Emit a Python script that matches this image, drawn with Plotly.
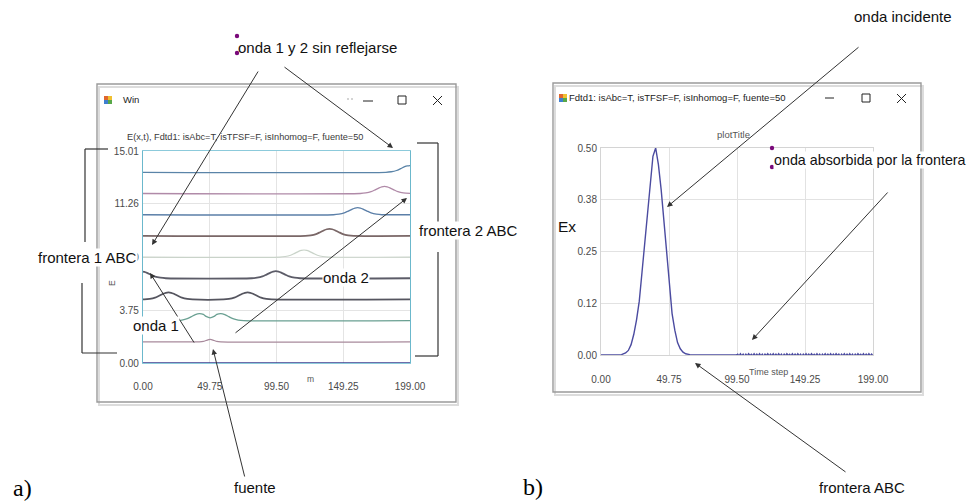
import plotly.graph_objects as go

# ---------------- DATA ----------------
# Panel a): snapshots of E(x,t) drawn with a vertical offset
snap_offsets = [0.0, 1.5, 3.0, 4.5, 6.0, 7.5, 9.0, 10.5, 12.0, 13.5]

x_s0 = [0, 199]
e_s0 = [0, 0]
x_s1 = [0, 42, 45, 47, 49, 50, 51, 53, 55, 58, 199]
e_s1 = [0, 0, 0.03, 0.09, 0.15, 0.17, 0.15, 0.09, 0.03, 0, 0]
x_s2 = [0, 25, 29, 33, 36, 39, 42, 45, 47, 50, 53, 55, 58, 61, 64, 67, 71, 75, 199]
e_s2 = [0, 0, 0.04, 0.14, 0.28, 0.43, 0.5, 0.44, 0.3, 0.2, 0.3, 0.44, 0.5, 0.43, 0.28, 0.14, 0.04, 0, 0]
x_s3 = [0, 1, 5, 9, 12, 15, 17, 19, 21, 23, 26, 29, 33, 37, 60, 64, 68, 71, 74, 76, 78, 80, 82, 85, 88, 92, 96, 199]
e_s3 = [0, 0, 0.04, 0.13, 0.26, 0.4, 0.47, 0.5, 0.47, 0.4, 0.26, 0.13, 0.04, 0,
        0, 0.04, 0.13, 0.26, 0.4, 0.47, 0.5, 0.47, 0.4, 0.26, 0.13, 0.04, 0, 0]
x_s4 = [0, 1, 3, 6, 9, 13, 17, 81, 85, 89, 92, 95, 97, 99, 101, 103, 106, 109, 113, 117, 199]
e_s4 = [0.47, 0.45, 0.38, 0.25, 0.12, 0.04, 0, 0, 0.04, 0.13, 0.26, 0.4, 0.47, 0.5, 0.47, 0.4, 0.26, 0.13, 0.04, 0, 0]
x_s5 = [0, 102, 106, 110, 113, 116, 118, 120, 122, 124, 127, 130, 134, 138, 199]
e_s5 = [0, 0, 0.04, 0.13, 0.26, 0.4, 0.47, 0.5, 0.47, 0.4, 0.26, 0.13, 0.04, 0, 0]
x_s6 = [0, 121, 125, 129, 132, 135, 137, 139, 141, 143, 146, 149, 153, 157, 199]
e_s6 = [0, 0, 0.04, 0.13, 0.26, 0.4, 0.47, 0.5, 0.47, 0.4, 0.26, 0.13, 0.04, 0, 0]
x_s7 = [0, 142, 146, 150, 153, 156, 158, 160, 162, 164, 167, 170, 174, 178, 199]
e_s7 = [0, 0, 0.04, 0.13, 0.26, 0.4, 0.47, 0.5, 0.47, 0.4, 0.26, 0.13, 0.04, 0, 0]
x_s8 = [0, 162, 166, 170, 173, 176, 178, 180, 182, 184, 187, 190, 194, 199]
e_s8 = [0, 0, 0.04, 0.13, 0.26, 0.4, 0.47, 0.5, 0.47, 0.4, 0.26, 0.13, 0.04, 0.01]
x_s9 = [0, 181, 185, 189, 192, 195, 197, 199]
e_s9 = [0, 0, 0.04, 0.13, 0.26, 0.4, 0.46, 0.48]

snaps_x = [x_s0, x_s1, x_s2, x_s3, x_s4, x_s5, x_s6, x_s7, x_s8, x_s9]
snaps_e = [e_s0, e_s1, e_s2, e_s3, e_s4, e_s5, e_s6, e_s7, e_s8, e_s9]

a_xticks = [0, 49.75, 99.5, 149.25, 199]
a_xticktext = ["0.00", "49.75", "99.50", "149.25", "199.00"]
a_yticks = [0, 3.75, 7.5, 11.26, 15.01]
a_yticktext = ["0.00", "3.75", "7.50", "11.26", "15.01"]

# Panel b): Ex versus time step
t_pulse = [0, 10, 15, 18, 20, 22, 24, 26, 28, 30, 32, 34, 36, 38, 40, 42, 44, 46, 48,
           50, 52, 54, 56, 58, 60, 62, 65, 70, 80, 90, 99]
ex_pulse = [0, 0, 0.001, 0.005, 0.011, 0.025, 0.05, 0.085, 0.13, 0.2, 0.27, 0.35, 0.42,
            0.48, 0.5, 0.46, 0.4, 0.32, 0.24, 0.16, 0.1, 0.06, 0.03, 0.015, 0.007,
            0.003, 0.001, 0, 0, 0, 0]
t_ripple = list(range(100, 200))
ex_ripple = [0.002, -0.002, 0.003, -0.002, 0.002, -0.003, 0.002, -0.002, 0.003, -0.001,
             0.002, -0.002, 0.003, -0.002, 0.002, -0.002, 0.003, -0.002, 0.002, -0.003,
             0.002, -0.001, 0.003, -0.002, 0.002, -0.002, 0.003, -0.002, 0.002, -0.002,
             0.003, -0.002, 0.002, -0.003, 0.002, -0.002, 0.003, -0.001, 0.002, -0.002,
             0.003, -0.002, 0.002, -0.002, 0.003, -0.002, 0.002, -0.003, 0.002, -0.002,
             0.003, -0.002, 0.002, -0.002, 0.003, -0.001, 0.002, -0.002, 0.003, -0.002,
             0.002, -0.003, 0.002, -0.002, 0.003, -0.002, 0.002, -0.002, 0.003, -0.002,
             0.002, -0.002, 0.003, -0.001, 0.002, -0.003, 0.002, -0.002, 0.003, -0.002,
             0.002, -0.002, 0.003, -0.002, 0.002, -0.003, 0.002, -0.002, 0.003, -0.001,
             0.002, -0.002, 0.003, -0.002, 0.002, -0.002, 0.003, -0.002, 0.002, -0.002]

b_xticks = [0, 49.75, 99.5, 149.25, 199]
b_xticktext = ["0.00", "49.75", "99.50", "149.25", "199.00"]
b_yticks = [0, 0.125, 0.25, 0.375, 0.5]
b_yticktext = ["0.00", "0.12", "0.25", "0.38", "0.50"]

# ---------------- STYLE ----------------
W, H = 980, 504
SANS = "Liberation Sans, Arial, sans-serif"
SERIF = "Liberation Serif, Times New Roman, serif"
snap_colors = ["#3c3c8e", "#a88a9c", "#6aa092", "#55555f", "#5c5c68",
               "#c9d3c9", "#7a6767", "#5b7fa8", "#b08aa8", "#5a84a8"]
snap_widths = [1.6, 1.2, 1.3, 1.8, 1.8, 1.2, 1.8, 1.4, 1.3, 1.3]


def X(px):
    return px / W


def Y(py):
    return 1 - py / H


fig = go.Figure()

for xs, es, off, col, lw in zip(snaps_x, snaps_e, snap_offsets, snap_colors, snap_widths):
    fig.add_trace(go.Scatter(x=xs, y=[v + off for v in es], mode="lines",
                             line=dict(color=col, width=lw, shape="spline", smoothing=0.7),
                             xaxis="x", yaxis="y", hoverinfo="skip", showlegend=False))

fig.add_trace(go.Scatter(x=t_pulse + t_ripple, y=ex_pulse + ex_ripple, mode="lines",
                         line=dict(color="#4b4ba0", width=1.4),
                         xaxis="x2", yaxis="y2", hoverinfo="skip", showlegend=False))

tickfont = dict(family=SANS, size=10, color="#4a4a4a")

fig.update_layout(
    width=W, height=H, autosize=False,
    margin=dict(l=0, r=0, t=0, b=0, autoexpand=False),
    paper_bgcolor="white", plot_bgcolor="white",
    showlegend=False,
    xaxis=dict(domain=[X(143), X(410)], range=[0, 199], anchor="y", automargin=False,
               tickvals=a_xticks, ticktext=a_xticktext, tickfont=tickfont,
               ticks="", ticklabelstandoff=14,
               showgrid=True, gridcolor="#e4e4e4", gridwidth=1, zeroline=False,
               showline=True, mirror=True, linecolor="#8ccadb", linewidth=1),
    yaxis=dict(domain=[Y(363), Y(151)], range=[0, 15.01], anchor="x", automargin=False,
               tickvals=a_yticks, ticktext=a_yticktext, tickfont=tickfont,
               ticks="", ticklabelstandoff=1,
               showgrid=True, gridcolor="#e4e4e4", gridwidth=1, zeroline=False,
               showline=True, mirror=True, linecolor="#6bb8cc", linewidth=1.2),
    xaxis2=dict(domain=[X(601), X(873)], range=[0, 199], anchor="y2", automargin=False,
                tickvals=b_xticks, ticktext=b_xticktext, tickfont=tickfont,
                ticks="", ticklabelstandoff=15,
                showgrid=True, gridcolor="#e2e2e2", gridwidth=1, zeroline=False,
                showline=True, mirror=True, linecolor="#d4d4d4", linewidth=1),
    yaxis2=dict(domain=[Y(355), Y(148)], range=[0, 0.5], anchor="x2", automargin=False,
                tickvals=b_yticks, ticktext=b_yticktext, tickfont=tickfont,
                ticks="", ticklabelstandoff=1,
                showgrid=True, gridcolor="#e2e2e2", gridwidth=1, zeroline=False,
                showline=True, mirror=True, linecolor="#d4d4d4", linewidth=1),
)

shapes = []


def line(x0, y0, x1, y1, color="#333333", width=1.2):
    shapes.append(dict(type="line", xref="paper", yref="paper",
                       x0=X(x0), y0=Y(y0), x1=X(x1), y1=Y(y1),
                       line=dict(color=color, width=width)))


def rect(x0, y0, x1, y1, color, width=1, fill=None, layer="above"):
    d = dict(type="rect", xref="paper", yref="paper",
             x0=X(x0), y0=Y(y0), x1=X(x1), y1=Y(y1),
             line=dict(color=color, width=width), layer=layer)
    if fill:
        d["fillcolor"] = fill
    shapes.append(d)


def dot(cx, cy, r=2.2, color="#7a0a7a"):
    shapes.append(dict(type="circle", xref="paper", yref="paper",
                       x0=X(cx - r), y0=Y(cy + r), x1=X(cx + r), y1=Y(cy - r),
                       line=dict(color=color, width=0), fillcolor=color))


# window frames (shadow + border)
rect(99, 87, 458, 405, "#dcdcdc", 2, layer="below")
rect(97, 84, 456, 402, "#9a9a9a", 1.4, layer="below")
rect(555, 86, 923, 395, "#dcdcdc", 2, layer="below")
rect(553, 83, 921, 392, "#9a9a9a", 1.4, layer="below")

# window icons
for (ix, iy) in [(104, 96), (559, 94)]:
    rect(ix, iy, ix + 4, iy + 4, "#e0662e", 0, fill="#e0662e")
    rect(ix + 4, iy, ix + 8, iy + 4, "#f0c030", 0, fill="#f0c030")
    rect(ix, iy + 4, ix + 4, iy + 8, "#3f7fd0", 0, fill="#3f7fd0")
    rect(ix + 4, iy + 4, ix + 8, iy + 8, "#58a848", 0, fill="#58a848")

# window buttons - left
dot(348, 99, 0.7, "#888888")
dot(352, 99, 0.7, "#888888")
line(363, 101, 373, 101, "#222222", 1)
rect(398, 96, 406, 104, "#222222", 1)
line(433, 96, 442, 105, "#222222", 1)
line(433, 105, 442, 96, "#222222", 1)
# window buttons - right
line(825, 98, 834, 98, "#222222", 1)
rect(862, 94, 870, 102, "#222222", 1)
line(897, 94, 906, 103, "#222222", 1)
line(897, 103, 906, 94, "#222222", 1)

# brackets
line(108, 149, 85, 149)
line(85, 149, 85, 242)
line(82, 283, 82, 353)
line(82, 353, 117, 353)
line(417, 143, 438, 143)
line(438, 143, 438, 225)
line(438, 252, 438, 356)
line(438, 356, 415, 356)

# text-box handles
dot(237, 36)
dot(237, 53)
dot(772, 148)
dot(772, 167)

fig.update_layout(shapes=shapes)

ann = []


def text(t, x, y, size=15, family=SANS, color="#111111", xanchor="left", bg=None, angle=0):
    d = dict(text=t, x=X(x), y=Y(y), xref="paper", yref="paper", showarrow=False,
             xanchor=xanchor, yanchor="middle", font=dict(family=family, size=size, color=color),
             borderpad=0, textangle=angle)
    if bg:
        d["bgcolor"] = bg
    ann.append(d)


def arrow(tail, head):
    ann.append(dict(text="", x=X(head[0]), y=Y(head[1]), xref="paper", yref="paper",
                    ax=tail[0] - head[0], ay=tail[1] - head[1], axref="pixel", ayref="pixel",
                    showarrow=True, arrowhead=2, arrowsize=1.1, arrowwidth=1,
                    arrowcolor="#333333", standoff=0, startstandoff=0))


# window captions
text("Win", 122, 100, 9.5, SANS, "#222222")
text("Fdtd1: isAbc=T, isTFSF=F, isInhomog=F, fuente=50", 568, 98, 9.5, SANS, "#222222")
text("E(x,t), Fdtd1: isAbc=T, isTFSF=F, isInhomog=F, fuente=50", 245, 137, 9.2, SANS, "#3a3a3a", "center")
text("plotTitle", 733, 135, 9.5, SANS, "#555555", "center")
text("m", 310, 379, 8.5, SANS, "#555555", "center")
text("E", 112, 283, 8.5, SANS, "#555555", "center", angle=-90)
text("Time step", 768, 372, 9, SANS, "#555555", "center")

# arrows
arrow((259, 70), (152, 245))
arrow((283, 66), (393, 148))
arrow((234, 334), (407, 198))
arrow((195, 344), (150, 273))
arrow((245, 478), (213, 349))
arrow((860, 46), (667, 207))
arrow((889, 191), (752, 340))
arrow((847, 473), (695, 363))

# explanatory labels
text("onda 1 y 2 sin reflejarse", 237, 47, 15)
text("onda incidente", 853, 17, 15)
text("frontera 1 ABC", 37, 257, 15, bg="white")
text("frontera 2 ABC", 418, 231, 15, bg="white")
text("onda 2", 322, 277, 15, bg="white")
text("onda 1", 132, 325, 15, bg="white")
text("fuente", 233, 487, 15)
text("Ex", 557, 227, 15.5)
text("onda absorbida por la frontera", 773, 160, 14.3, bg="white")
text("frontera ABC", 818, 487, 15)
text("a)", 12, 488, 24, SERIF, "#000000")
text("b)", 522, 487, 24, SERIF, "#000000")

fig.update_layout(annotations=ann)

fig.write_html("out.html", config={"displayModeBar": False},
               post_script="document.body.style.margin='0px';document.body.style.padding='0px';")
